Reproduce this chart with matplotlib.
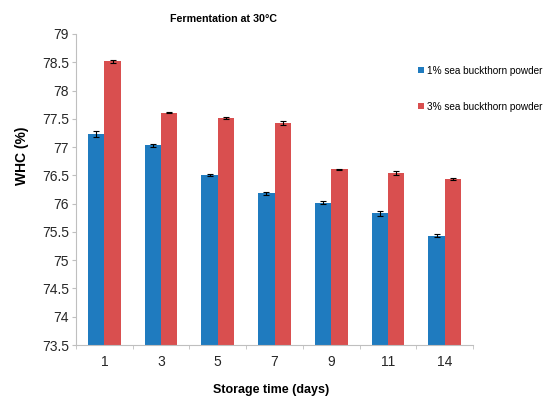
import matplotlib
matplotlib.use("Agg")
import matplotlib.pyplot as plt
import numpy as np

plt.rcParams['font.family'] = ['Liberation Sans', 'DejaVu Sans']

days = ["1", "3", "5", "7", "9", "11", "14"]
whc_1pct = [77.23, 77.03, 76.51, 76.18, 76.02, 75.83, 75.43]
whc_3pct = [78.52, 77.61, 77.52, 77.43, 76.61, 76.54, 76.43]
err_1pct = [0.05, 0.03, 0.015, 0.025, 0.03, 0.04, 0.025]
err_3pct = [0.025, 0.01, 0.015, 0.035, 0.01, 0.03, 0.02]
series_labels = ["1% sea buckthorn powder", "3% sea buckthorn powder"]
y_ticks = [73.5, 74, 74.5, 75, 75.5, 76, 76.5, 77, 77.5, 78, 78.5, 79]

blue = "#1f7bbf"
red = "#d94f4f"

fig = plt.figure(figsize=(5.48, 3.99), dpi=100)
ax = fig.add_axes([0.1387, 0.1353, 0.7245, 0.7795])

x = np.arange(len(days))
w = 0.288
ekw = dict(ecolor="black", elinewidth=0.8, capsize=2, capthick=0.8)
b1 = ax.bar(x - w / 2, whc_1pct, w, color=blue, yerr=err_1pct, error_kw=ekw,
            label=series_labels[0])
b2 = ax.bar(x + w / 2, whc_3pct, w, color=red, yerr=err_3pct, error_kw=ekw,
            label=series_labels[1])

ax.set_xlim(-0.5, len(days) - 0.5)
ax.set_ylim(73.5, 79)
ax.set_yticks(y_ticks)
ax.set_yticklabels([f"{t:g}" for t in y_ticks])
ax.set_xticks(x)
ax.set_xticklabels(days)
ax.set_xticks(np.arange(len(days) + 1) - 0.5, minor=True)

for s in ["top", "right"]:
    ax.spines[s].set_visible(False)
for s in ["left", "bottom"]:
    ax.spines[s].set_color("#bfbfbf")
    ax.spines[s].set_linewidth(0.8)

ax.tick_params(axis="y", which="major", length=3, color="#bfbfbf",
               labelsize=10, labelcolor="#262626", pad=2)
ax.tick_params(axis="x", which="major", length=0, labelsize=10,
               labelcolor="#262626", pad=7)
ax.tick_params(axis="x", which="minor", length=3, color="#bfbfbf")

# axis titles and chart title placed in figure coordinates
fig.text(0.04, 0.609, "WHC (%)", fontsize=10, fontweight="bold",
         rotation=90, ha="center", va="center")
fig.text(0.495, 0.022, "Storage time (days)", fontsize=9, fontweight="bold",
         ha="center", va="center")
fig.text(0.407, 0.953, "Fermentation at 30°C", fontsize=7.7, fontweight="bold",
         ha="center", va="center")

leg = fig.legend(handles=[b1, b2], loc="upper left",
                 bbox_to_anchor=(0.755, 0.845), frameon=False, fontsize=7.2,
                 handlelength=0.6, handleheight=0.6, handletextpad=0.3,
                 labelspacing=2.6, borderaxespad=0)

fig.savefig("out.png", dpi=100)
